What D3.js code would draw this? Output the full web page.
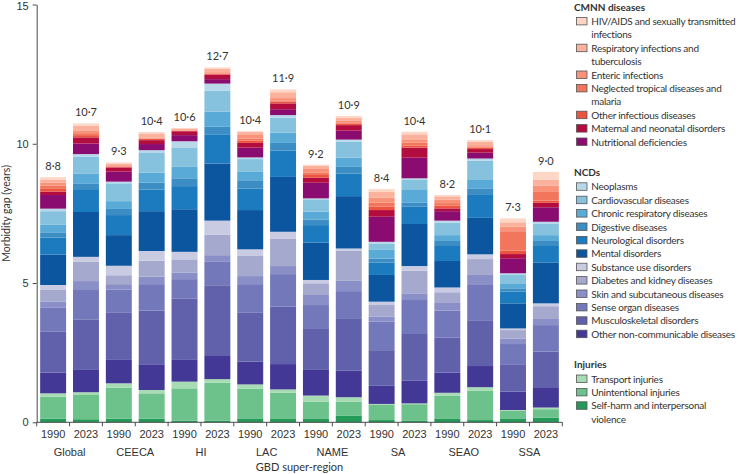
<!DOCTYPE html>
<html>
<head>
<meta charset="utf-8">
<script src="https://cdn.jsdelivr.net/npm/d3@7"></script>
<style>
  body { margin: 0; background: #fff; }
  svg { display: block; font-family: Lato, "Open Sans", sans-serif; }
  .axis path, .axis line { stroke: #4a4a4a; }
  .axis text { fill: #333; font-size: 11px; }
</style>
</head>
<body>
<svg id="chart" width="739" height="474"></svg>
<script>
const regions = ["Global", "CEECA", "HI", "LAC", "NAME", "SA", "SEAO", "SSA"];
const years = ["1990", "2023"];
const totalLabels = ["8·8", "10·7", "9·3", "10·4", "10·6", "12·7", "10·4", "11·9",
  "9·2", "10·9", "8·4", "10·4", "8·2", "10·1", "7·3", "9·0"];
const yTicks = [0, 5, 10, 15];

// cause order, bottom of stack to top
const causes = [
  "Self-harm and interpersonal violence", "Unintentional injuries", "Transport injuries",
  "Other non-communicable diseases", "Musculoskeletal disorders", "Sense organ diseases",
  "Skin and subcutaneous diseases", "Diabetes and kidney diseases", "Substance use disorders",
  "Mental disorders", "Neurological disorders", "Digestive diseases",
  "Chronic respiratory diseases", "Cardiovascular diseases", "Neoplasms",
  "Nutritional deficiencies", "Maternal and neonatal disorders", "Other infectious diseases",
  "Neglected tropical diseases and malaria", "Enteric infections",
  "Respiratory infections and tuberculosis", "HIV/AIDS and sexually transmitted infections"
];
const colours = [
  "#239a57", "#6cc28a", "#a7dbb3",
  "#433895", "#6160ab", "#7378bb", "#8b8fc7", "#a4a9cd", "#c9cbe3",
  "#0b569f", "#1c7bbf", "#3b8dc3", "#5aaad8", "#86c2dd", "#b8d8ea",
  "#8a0c70", "#b30c3e", "#eb5540", "#f2765c", "#f8937a", "#fbb19b", "#fdd6c6"
];

// values per bar: Global 1990, Global 2023, CEECA 1990, ... SSA 2023
const selfHarm      = [0.13, 0.11, 0.13, 0.13, 0.06, 0.06, 0.14, 0.12, 0.14, 0.23, 0.08, 0.05, 0.14, 0.08, 0.14, 0.17];
const unintentional = [0.79, 0.87, 1.11, 0.91, 1.16, 1.36, 1.06, 0.94, 0.60, 0.51, 0.54, 0.60, 0.82, 1.06, 0.27, 0.30];
const transport     = [0.12, 0.10, 0.16, 0.12, 0.24, 0.13, 0.16, 0.12, 0.22, 0.16, 0.04, 0.03, 0.10, 0.12, 0.03, 0.06];
const otherNcd      = [0.74, 0.80, 0.84, 0.90, 0.78, 0.83, 0.82, 0.91, 0.92, 0.95, 0.65, 0.81, 0.72, 0.76, 0.66, 0.73];
const musculo       = [1.47, 1.80, 1.71, 1.95, 2.21, 2.54, 1.75, 2.06, 1.47, 1.86, 1.28, 1.68, 1.27, 1.62, 0.96, 1.28];
const senseOrgan    = [0.86, 1.10, 0.82, 0.95, 0.69, 0.84, 1.03, 1.17, 0.86, 1.00, 1.02, 1.22, 0.96, 1.29, 0.75, 0.95];
const skin          = [0.23, 0.29, 0.19, 0.27, 0.24, 0.24, 0.29, 0.29, 0.36, 0.37, 0.18, 0.24, 0.30, 0.36, 0.20, 0.22];
const diabetes      = [0.41, 0.70, 0.32, 0.57, 0.47, 0.74, 0.72, 0.99, 0.42, 1.08, 0.42, 0.81, 0.36, 0.57, 0.30, 0.46];
const substance     = [0.18, 0.17, 0.34, 0.35, 0.27, 0.50, 0.24, 0.24, 0.12, 0.08, 0.12, 0.17, 0.17, 0.17, 0.06, 0.10];
const mental        = [1.09, 1.61, 1.10, 1.43, 1.53, 2.05, 1.41, 1.97, 1.34, 1.88, 0.96, 1.51, 0.95, 1.31, 0.90, 1.47];
const neurological  = [0.61, 0.79, 0.72, 0.78, 0.83, 1.05, 0.77, 0.94, 0.63, 0.81, 0.44, 0.62, 0.54, 0.85, 0.42, 0.59];
const digestive     = [0.19, 0.22, 0.22, 0.25, 0.28, 0.27, 0.30, 0.28, 0.20, 0.24, 0.15, 0.14, 0.18, 0.21, 0.12, 0.18];
const chronicResp   = [0.27, 0.36, 0.28, 0.35, 0.41, 0.54, 0.30, 0.37, 0.28, 0.33, 0.33, 0.46, 0.21, 0.30, 0.18, 0.21];
const cardio        = [0.49, 0.61, 0.64, 0.73, 0.70, 0.75, 0.46, 0.54, 0.42, 0.57, 0.21, 0.36, 0.45, 0.69, 0.30, 0.42];
const neoplasms     = [0.09, 0.10, 0.06, 0.08, 0.22, 0.26, 0.06, 0.09, 0.06, 0.08, 0.06, 0.06, 0.07, 0.08, 0.06, 0.06];
const nutritional   = [0.49, 0.38, 0.36, 0.22, 0.22, 0.16, 0.35, 0.21, 0.56, 0.32, 0.90, 0.74, 0.34, 0.21, 0.54, 0.52];
const maternal      = [0.12, 0.22, 0.15, 0.14, 0.14, 0.16, 0.17, 0.21, 0.18, 0.20, 0.24, 0.36, 0.10, 0.13, 0.15, 0.16];
const otherInf      = [0.10, 0.08, 0.03, 0.05, 0.02, 0.04, 0.08, 0.06, 0.10, 0.06, 0.12, 0.08, 0.10, 0.05, 0.12, 0.08];
const ntdMalaria    = [0.12, 0.07, 0.01, 0.01, 0.00, 0.01, 0.08, 0.05, 0.08, 0.04, 0.14, 0.10, 0.09, 0.04, 0.70, 0.31];
const enteric       = [0.10, 0.10, 0.04, 0.04, 0.02, 0.04, 0.15, 0.08, 0.16, 0.07, 0.19, 0.12, 0.13, 0.05, 0.16, 0.22];
const respTb        = [0.12, 0.17, 0.06, 0.14, 0.06, 0.12, 0.08, 0.21, 0.09, 0.10, 0.20, 0.18, 0.11, 0.12, 0.16, 0.22];
const hivSti        = [0.08, 0.08, 0.04, 0.05, 0.02, 0.05, 0.03, 0.10, 0.04, 0.06, 0.10, 0.09, 0.05, 0.06, 0.14, 0.28];

const series = [selfHarm, unintentional, transport, otherNcd, musculo, senseOrgan, skin,
  diabetes, substance, mental, neurological, digestive, chronicResp, cardio, neoplasms,
  nutritional, maternal, otherInf, ntdMalaria, enteric, respTb, hivSti];

// legend groups, top to bottom as printed
const legendGroups = [
  { title: "CMNN diseases", items: [21, 20, 19, 18, 17, 16, 15] },
  { title: "NCDs", items: [14, 13, 12, 11, 10, 9, 8, 7, 6, 5, 4, 3] },
  { title: "Injuries", items: [2, 1, 0] }
];
const legendLines = {
  21: ["HIV/AIDS and sexually transmitted", "infections"],
  20: ["Respiratory infections and", "tuberculosis"],
  18: ["Neglected tropical diseases and", "malaria"],
  0: ["Self-harm and interpersonal", "violence"]
};

const bars = [];
regions.forEach((r, ri) => years.forEach((y, yi) => {
  const i = ri * 2 + yi;
  const row = { id: i, region: r, year: y, label: totalLabels[i] };
  causes.forEach((c, ci) => { row[c] = series[ci][i]; });
  bars.push(row);
}));

const svg = d3.select("#chart");
const margin = { top: 4.5, left: 36.7, bottom: 51.7 };
const plotRight = 562.3;
const height = 474;

const x = d3.scaleBand()
  .domain(bars.map((d) => d.id))
  .range([margin.left, plotRight])
  .paddingInner(0.21)
  .paddingOuter(0.105);

const y = d3.scaleLinear()
  .domain([0, 15])
  .range([height - margin.bottom, margin.top]);

const stacked = d3.stack().keys(causes)(bars);

svg.append("g")
  .selectAll("g")
  .data(stacked)
  .join("g")
  .attr("fill", (d, i) => colours[i])
  .selectAll("rect")
  .data((d) => d)
  .join("rect")
  .attr("x", (d) => x(d.data.id))
  .attr("width", x.bandwidth())
  .attr("y", (d) => y(d[1]))
  .attr("height", (d) => y(d[0]) - y(d[1]));

// total labels above each bar
const tops = stacked[stacked.length - 1];
svg.append("g")
  .selectAll("text")
  .data(tops)
  .join("text")
  .attr("x", (d) => x(d.data.id) + x.bandwidth() / 2)
  .attr("y", (d) => y(d[1]) - 7)
  .attr("text-anchor", "middle")
  .attr("font-size", 11)
  .attr("fill", "#333")
  .text((d) => d.data.label);

// y axis
const yAxisG = svg.append("g")
  .attr("class", "axis")
  .attr("transform", `translate(${margin.left},0)`)
  .call(d3.axisLeft(y).tickValues(yTicks).tickSize(4).tickSizeOuter(0).tickPadding(4));
yAxisG.selectAll(".tick text").filter((d) => d === 15).attr("dy", "0.45em");

svg.append("text")
  .attr("transform", `translate(10,${(y(0) + y(15)) / 2}) rotate(-90)`)
  .attr("text-anchor", "middle")
  .attr("font-size", 10.5)
  .attr("fill", "#333")
  .text("Morbidity gap (years)");

// x axis: year under each bar, ticks at band boundaries
const xAxisG = svg.append("g")
  .attr("class", "axis")
  .attr("transform", `translate(0,${y(0)})`);

xAxisG.call(d3.axisBottom(x).tickSize(0).tickPadding(8).tickFormat((i) => bars[i].year));
xAxisG.select(".domain").remove();

const half = (x.step() - x.bandwidth()) / 2;
const boundaries = bars.map((d) => x(d.id) - half).concat([x(bars[bars.length - 1].id) + x.bandwidth() + half]);

xAxisG.append("line")
  .attr("x1", margin.left).attr("x2", boundaries[boundaries.length - 1])
  .attr("stroke", "#4a4a4a");
xAxisG.selectAll(".bound")
  .data(boundaries)
  .join("line")
  .attr("class", "bound")
  .attr("x1", (d) => d).attr("x2", (d) => d)
  .attr("y1", 0).attr("y2", 4)
  .attr("stroke", "#4a4a4a");

xAxisG.selectAll(".region")
  .data(regions)
  .join("text")
  .attr("class", "region")
  .attr("x", (d, i) => x(i * 2) + x.bandwidth() + half)
  .attr("y", 34)
  .attr("text-anchor", "middle")
  .attr("font-size", 11)
  .attr("fill", "#333")
  .text((d) => d);

svg.append("text")
  .attr("x", (margin.left + plotRight) / 2)
  .attr("y", 471)
  .attr("text-anchor", "middle")
  .attr("font-size", 11)
  .attr("fill", "#333")
  .text("GBD super-region");

// legend
const legend = svg.append("g")
  .attr("font-size", 10)
  .attr("letter-spacing", "-0.25px")
  .attr("fill", "#333");
const lineH = 13.4;
let ly = 10.5;
legendGroups.forEach((g) => {
  legend.append("text")
    .attr("x", 574).attr("y", ly)
    .attr("font-weight", 700)
    .attr("letter-spacing", "0px")
    .text(g.title);
  ly += lineH + 1;
  g.items.forEach((ci) => {
    legend.append("rect")
      .attr("x", 576.5).attr("y", ly - 7.5)
      .attr("width", 10.5).attr("height", 7.5)
      .attr("fill", colours[ci])
      .attr("stroke", "#555").attr("stroke-width", 0.8);
    const lines = legendLines[ci] || [causes[ci]];
    lines.forEach((t, li) => {
      legend.append("text")
        .attr("x", 591.3).attr("y", ly + li * lineH)
        .text(t);
    });
    ly += lineH * lines.length;
  });
  ly += 17;
});
</script>
</body>
</html>
